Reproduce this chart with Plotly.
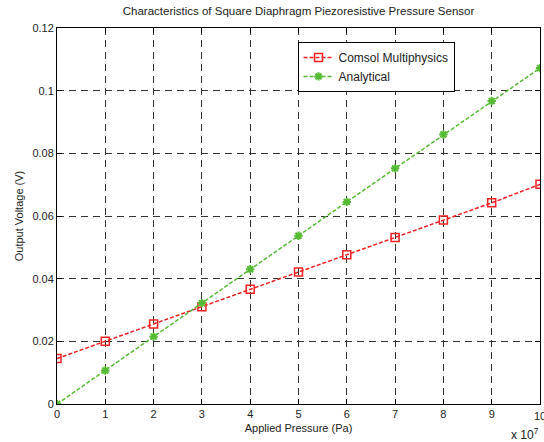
import plotly.graph_objects as go

pressure = [0, 1, 2, 3, 4, 5, 6, 7, 8, 9, 10]  # x 10^7 Pa
comsol = [0.0145, 0.0200, 0.0255, 0.0310, 0.0366, 0.0421, 0.0476, 0.0531, 0.0587, 0.0642, 0.0701]
analytical = [0.0, 0.0107, 0.0215, 0.0322, 0.0430, 0.0537, 0.0645, 0.0752, 0.0860, 0.0967, 0.1072]

font = "Liberation Sans, Arial, sans-serif"
fig = go.Figure()
fig.add_trace(go.Scatter(x=pressure, y=comsol, name="Comsol Multiphysics", mode="lines+markers",
                         line=dict(color="#ee2222", dash="4px,2px", width=1.5),
                         marker=dict(symbol="square-open", size=8, color="#ee2222", line=dict(width=1.5))))
fig.add_trace(go.Scatter(x=pressure, y=analytical, name="Analytical", mode="lines+markers",
                         line=dict(color="#55bb33", dash="4px,2px", width=1.5),
                         marker=dict(symbol="asterisk-open", size=7, color="#55bb33", line=dict(width=2, color="#55bb33"))))

axis_common = dict(showline=True, linecolor="black", linewidth=1, mirror="ticks", ticks="inside",
                   ticklen=5, tickcolor="black", showgrid=True, gridcolor="#333333", griddash="7px,5px",
                   gridwidth=1, zeroline=False, tickfont=dict(family=font, size=11, color="#222"))
fig.update_xaxes(range=[0, 10], dtick=1, title=dict(text="Applied Pressure (Pa)", standoff=5,
                 font=dict(family=font, size=11, color="#222")), **axis_common)
fig.update_yaxes(range=[0, 0.12], dtick=0.02, tickformat="~g",
                 title=dict(text="Output Voltage (V)", standoff=6, font=dict(family=font, size=11, color="#222")),
                 **axis_common)
# last x tick label, cut by the edge as in the reference
fig.add_annotation(text=str(pressure[-1]), x=pressure[-1], xref="x", yref="paper", y=0, xanchor="center",
                   yanchor="top", yshift=-4, showarrow=False, font=dict(family=font, size=11, color="#222"))
fig.add_annotation(text="x 10<sup>7</sup>", xref="paper", yref="paper", x=1.0, y=0, xanchor="right",
                   yanchor="top", yshift=-20, xshift=1, showarrow=False, font=dict(family=font, size=12, color="#222"))
fig.update_layout(width=544, height=442, margin=dict(l=57, r=4, t=28, b=38),
                  plot_bgcolor="white", paper_bgcolor="white",
                  title=dict(text="Characteristics of Square Diaphragm Piezoresistive Pressure Sensor",
                             x=0.5, xref="paper", y=1 - 7 / 442, yanchor="top", font=dict(family=font, size=11.5, color="#222")),
                  legend=dict(x=0.498, y=0.963, xanchor="left", yanchor="top", bgcolor="white", bordercolor="black",
                              borderwidth=1, font=dict(family=font, size=12, color="#222"), tracegroupgap=0),
                  showlegend=True)
fig.write_html("out.html", config={"displayModeBar": False},
               post_script="document.body.style.margin='0px';")
